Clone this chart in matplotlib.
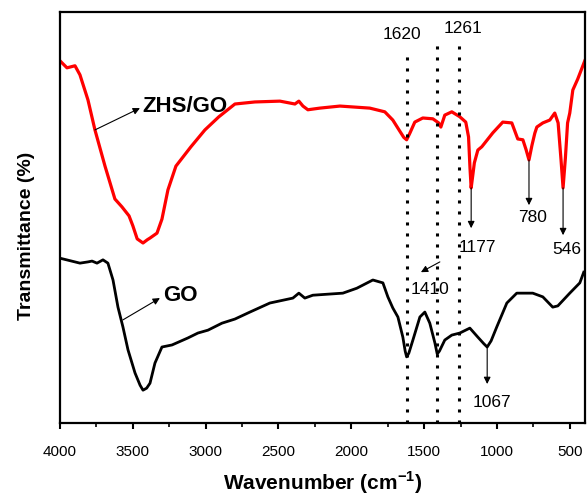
import matplotlib
matplotlib.use('Agg')
import matplotlib.pyplot as plt
from matplotlib.ticker import MultipleLocator
import numpy as np

plt.rcParams['font.family'] = ['Liberation Sans', 'DejaVu Sans']
plt.rcParams['mathtext.fontset'] = 'custom'
plt.rcParams['mathtext.rm'] = 'Liberation Sans'
plt.rcParams['mathtext.bf'] = 'Liberation Sans:bold'

# ZHS/GO spectrum (wavenumber, transmittance)
zhs_wn = [4000, 3952, 3897, 3863, 3808, 3760, 3691, 3623, 3575, 3526, 3500,
          3470, 3430, 3400, 3382, 3334, 3300, 3259, 3204, 3101, 3005, 2909,
          2799, 2662, 2490, 2387, 2360, 2332, 2298, 2216, 2078, 1873, 1770,
          1715, 1667, 1640, 1620, 1598, 1564, 1509, 1440, 1400, 1385, 1358,
          1310, 1255, 1214, 1195, 1185, 1177, 1165, 1155, 1131, 1104, 1028,
          960, 898, 857, 822, 800, 780, 760, 740, 726, 685, 637, 603, 580,
          560, 546, 530, 515, 500, 479, 445, 397]
zhs_t = [88.1, 86.4, 86.9, 84.7, 78.6, 71.3, 62.5, 54.5, 52.6, 50.4, 48.0,
         44.8, 43.8, 44.6, 45.0, 46.2, 49.6, 56.7, 62.5, 67.2, 71.3, 74.5,
         77.6, 78.1, 78.3, 77.6, 78.3, 77.1, 76.2, 76.6, 77.1, 76.6, 75.7,
         73.7, 71.0, 69.5, 68.9, 70.5, 73.2, 74.2, 74.0, 73.0, 72.0, 74.9,
         75.7, 74.5, 73.2, 69.6, 62.0, 57.2, 60.5, 63.3, 66.4, 67.2, 70.6,
         73.2, 73.0, 69.1, 68.9, 66.5, 64.0, 67.5, 70.5, 72.0, 73.0, 73.7,
         75.4, 73.0, 64.0, 57.2, 64.5, 73.0, 75.4, 81.0, 83.7, 88.1]

# GO spectrum
go_wn = [4000, 3863, 3808, 3780, 3746, 3705, 3671, 3636, 3602, 3568, 3533,
         3485, 3450, 3430, 3405, 3382, 3348, 3300, 3231, 3122, 3053, 2984,
         2888, 2799, 2696, 2559, 2401, 2360, 2319, 2264, 2058, 1962, 1852,
         1783, 1749, 1715, 1680, 1646, 1630, 1620, 1605, 1577, 1529, 1495,
         1461, 1426, 1410, 1395, 1358, 1310, 1255, 1186, 1131, 1090, 1067,
         1040, 1001, 932, 864, 754, 685, 617, 582, 500, 431, 404]
go_t = [40.1, 38.9, 39.2, 39.4, 38.9, 39.7, 38.9, 34.8, 28.2, 23.4, 17.8,
        12.2, 9.2, 8.0, 8.5, 9.7, 14.6, 18.5, 19.0, 20.7, 21.9, 22.6,
        24.3, 25.3, 27.0, 29.2, 30.4, 31.6, 30.4, 31.1, 31.6, 32.8, 34.8,
        34.1, 30.7, 28.0, 25.8, 20.9, 17.5, 16.1, 17.0, 20.2, 25.8, 27.0,
        24.3, 19.5, 16.8, 17.5, 20.2, 21.4, 21.9, 23.1, 20.9, 19.3, 18.5,
        20.0, 23.4, 29.2, 31.6, 31.6, 30.7, 28.2, 28.5, 31.6, 34.1, 36.7]

# marked bands
guide_wn = [1620, 1410, 1261]
guide_top = [90.0, 93.2, 93.2]

fig = plt.figure(figsize=(5.87, 4.96), dpi=100)
ax = fig.add_axes([0.1022, 0.147, 0.894, 0.829])

ax.plot(zhs_wn, zhs_t, color='#ff0000', lw=2.3)
ax.plot(go_wn, go_t, color='black', lw=2.0)

for wn, top in zip(guide_wn, guide_top):
    ax.plot([wn, wn], [0, top], color='black', lw=2.2, linestyle=(0, (1, 2.6)))

ax.set_xlim(4000, 397)
ax.set_ylim(0, 100)

arrow = dict(arrowstyle='-|>', color='black', lw=0.8, mutation_scale=10,
             shrinkA=0, shrinkB=0)

ax.annotate('', xy=(3451, 76.6), xytext=(3760, 71.3), arrowprops=arrow)
ax.text(3437, 76.9, 'ZHS/GO', fontsize=16, fontweight='bold', va='center')
ax.annotate('', xy=(3314, 30.4), xytext=(3568, 25.1), arrowprops=arrow)
ax.text(3293, 31.1, 'GO', fontsize=16, fontweight='bold', va='center')

ax.annotate('', xy=(1177, 47.4), xytext=(1177, 57.2), arrowprops=arrow)
ax.annotate('', xy=(780, 53.0), xytext=(780, 64.0), arrowprops=arrow)
ax.annotate('', xy=(546, 45.7), xytext=(546, 57.2), arrowprops=arrow)
ax.annotate('', xy=(1067, 9.5), xytext=(1067, 18.5), arrowprops=arrow)
ax.annotate('', xy=(1522, 36.7), xytext=(1392, 39.2), arrowprops=arrow)

lab = dict(fontsize=12.5, ha='center', va='center')
ax.text(1650, 94.4, '1620', **lab)
ax.text(1234, 95.9, '1261', **lab)
ax.text(1131, 42.8, '1177', **lab)
ax.text(754, 49.9, '780', **lab)
ax.text(520, 42.1, '546', **lab)
ax.text(1461, 32.6, '1410', **lab)
ax.text(1035, 5.1, '1067', **lab)

ax.xaxis.set_major_locator(MultipleLocator(500))
ax.xaxis.set_minor_locator(MultipleLocator(250))
ax.set_yticks([])
ax.tick_params(axis='x', which='major', direction='out', length=4.5, width=1.5,
               labelsize=11, pad=11, top=False)
ax.tick_params(axis='x', which='minor', direction='out', length=3, width=1.2,
               top=False)
for s in ax.spines.values():
    s.set_linewidth(1.6)

ax.set_xlabel(r'Wavenumber (cm$^{\mathbf{-1}}$)', fontsize=15, fontweight='bold')
ax.xaxis.set_label_coords(0.5, -0.113)
ax.set_ylabel('Transmittance (%)', fontsize=14, fontweight='bold')
ax.yaxis.set_label_coords(-0.048, 0.455)

fig.savefig('out.png', dpi=100)
